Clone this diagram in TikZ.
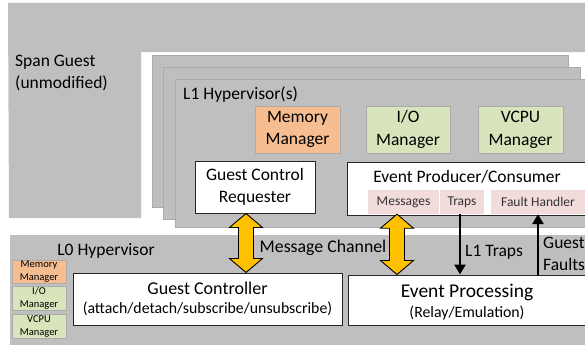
\documentclass[tikz,border=0pt]{standalone}
\usepackage{fontspec}
\setmainfont{Carlito}
\usetikzlibrary{calc,arrows.meta}
\definecolor{panel}{HTML}{BFBFBF}
\definecolor{cardline}{HTML}{ABABAB}
\definecolor{memfill}{HTML}{F6BD91}
\definecolor{mgrfill}{HTML}{D8E4BC}
\definecolor{evtfill}{HTML}{F2DCDB}
\definecolor{chanfill}{HTML}{FFC000}
\newcommand\fs[1]{\fontsize{#1}{\fpeval{1.24*#1}}\selectfont}
\tikzset{
  card/.style={fill=panel, draw=cardline, line width=0.9pt},
  mgr/.style={draw=cardline, line width=0.9pt, align=center, inner sep=0pt, font=\fs{17.5}},
  whitebox/.style={draw=black!85, fill=white, line width=1pt, align=center, inner sep=0pt},
  evt/.style={fill=evtfill, inner sep=0pt, font=\fs{13.5}, text=black!80},
  small/.style={draw=cardline, line width=0.6pt, align=center, inner sep=0pt, font=\fs{10.5}},
  lbl/.style={inner sep=0pt, font=\fs{17.5}, align=left},
  txt/.style={inner sep=0pt},
  chan/.style={fill=chanfill, draw=black, line width=0.9pt, line join=miter},
  trap/.style={draw=black, line width=2.6pt, -{Triangle[length=10pt,width=11pt]}},
}
% yellow double-headed channel arrow between two points on one vertical
\newcommand\chanarrow[2]{%
  \draw[chan] let \p1=(#1), \p2=(#2) in
    (\x1,\y1) -- (\x1+16.5pt,\y1-14pt) -- (\x1+7.5pt,\y1-14pt) --
    (\x1+7.5pt,\y2+14pt) -- (\x1+16.5pt,\y2+14pt) -- (\x1,\y2) --
    (\x1-16.5pt,\y2+14pt) -- (\x1-7.5pt,\y2+14pt) -- (\x1-7.5pt,\y1-14pt) --
    (\x1-16.5pt,\y1-14pt) -- cycle;}
\begin{document}
\begin{tikzpicture}[x=1pt,y=-1pt]
\useasboundingbox (0,0) rectangle (585,345);
\fill[white] (0,0) rectangle (585,345);

% span guest region
\fill[panel] (8,3) -- (585,3) -- (585,52) -- (141,52) -- (141,218) -- (9,218) -- cycle;
\node[lbl, anchor=north west] (span) at (15,55) {Span Guest\\(unmodified)};

% stacked L1 hypervisor cards
\draw[card] (152,55) rectangle (568,207);
\draw[card] (163,67) rectangle (580,219);
\draw[card] (175,79) rectangle (592,227);
\node[lbl, anchor=west] (l1) at (183,95) {L1 Hypervisor(s)};

\node[mgr, fill=memfill, minimum width=85, minimum height=47] (mem) at (297.5,129.5) {Memory\\[1pt]Manager};
\node[mgr, fill=mgrfill, minimum width=84, minimum height=47] (io) at (408,129.5) {I/O\\[1pt]Manager};
\node[mgr, fill=mgrfill, minimum width=85, minimum height=47] (vcpu) at (520.5,129.5) {VCPU\\[1pt]Manager};

\node[whitebox, font=\fs{17.5}, minimum width=120, minimum height=52] (gcr) at (255,187) {Guest Control\\Requester};
\node[whitebox, minimum width=243, minimum height=53] (epc) at (468.5,188.5) {};
\node[txt, font=\fs{17.5}] (epctext) at (467,176.5) {Event Producer/Consumer};
\node[evt, minimum width=71, minimum height=24] (msg) at (403.5,202) {Messages};
\node[evt, minimum width=44, minimum height=24] (traps) at (462,202) {Traps};
\node[evt, minimum width=94, minimum height=24] (fh) at (538,202) {Fault Handler};

% L0 hypervisor
\fill[panel] (10,235) rectangle (585,345);
\node[txt, font=\fs{17.5}] (l0) at (106,251) {L0 Hypervisor};
\node[small, fill=memfill, minimum width=54, minimum height=23] (smem) at (39,271.5) {Memory\\Manager};
\node[small, fill=mgrfill, minimum width=54, minimum height=24] (sio) at (39,298) {I/O\\Manager};
\node[small, fill=mgrfill, minimum width=54, minimum height=24] (svcpu) at (39,326) {VCPU\\Manager};

\node[whitebox, minimum width=269, minimum height=52] (gc) at (207.5,299) {};
\node[txt, font=\fs{18}] (gctitle) at ($(gc.center)+(0,-11)$) {Guest Controller};
\node[txt, font=\fs{15.8}] (gcops) at ($(gc.center)+(0,9.5)$) {(attach/detach/subscribe/unsubscribe)};
\node[whitebox, minimum width=242, minimum height=50] (ep) at (469,300) {};
\node[txt, font=\fs{19.5}] (eptitle) at ($(ep.center)+(-2,-8)$) {Event Processing};
\node[txt, font=\fs{15.8}] (epmode) at ($(ep.center)+(-2,13)$) {(Relay/Emulation)};

% message channels
\coordinate (gtop) at ($(gcr.south)+(-9,0)$);
\coordinate (gbot) at (gtop |- gc.north);
\coordinate (mtop) at ($(msg.south)+(-6.5,0)$);
\coordinate (mbot) at (mtop |- ep.north);
\chanarrow{gtop}{gbot}
\chanarrow{mtop}{mbot}
\node[txt, font=\fs{17.8}] (mc) at (323,247.5) {Message Channel};

% trap and fault paths
\coordinate (ttop) at ($(traps.south)+(-2,0)$);
\draw[trap] (ttop) -- (ttop |- ep.north);
\draw[trap] (fh.south |- ep.north) -- (fh.south);
\node[txt, font=\fs{17.5}, anchor=west] (l1t) at (465,252) {L1 Traps};
\node[txt, font=\fs{17.5}, anchor=west, align=left] (gf) at (543,254) {Guest\\Faults};
\end{tikzpicture}
\end{document}
